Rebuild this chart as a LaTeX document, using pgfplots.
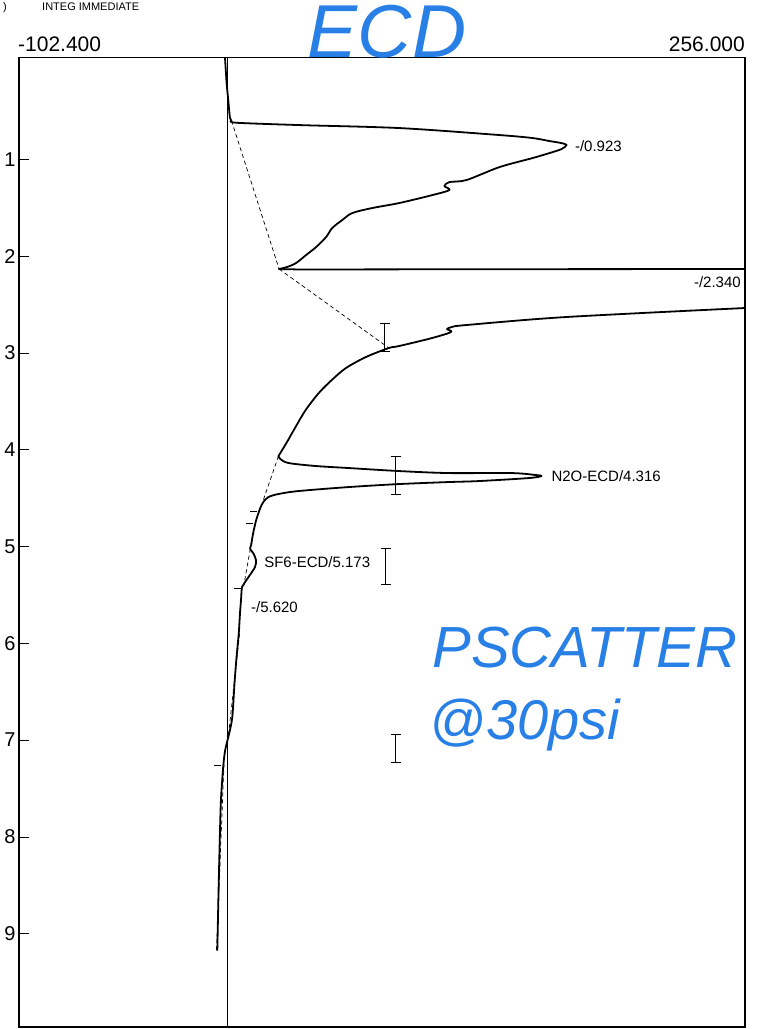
\documentclass[border=0pt]{standalone}
\usepackage{fontspec}
\setmainfont{Liberation Sans}
\usepackage{pgfplots}
\pgfplotsset{compat=1.18}
\definecolor{pen}{RGB}{40,128,230}

\begin{document}
\begin{tikzpicture}
\path[use as bounding box] (-19pt,-2pt) rectangle (743pt,1027pt);
\begin{axis}[at={(0pt,0pt)}, anchor=south west, scale only axis,
  width=726pt, height=969.3pt,
  xmin=-102.4, xmax=256, ymin=-0.05, ymax=9.964, y dir=reverse,
  xtick=\empty, ytick={1,2,...,9}, ytick pos=left,
  tick align=inside, major tick length=10pt,
  tick style={black, line width=0.8pt},
  axis line style={line width=1.3pt},
  yticklabel style={font=\fontsize{20}{24}\selectfont},
  /pgf/number format/assume math mode=true,
  trace/.style={black, line width=1.8pt, line join=round, line cap=round},
  base/.style={black, line width=0.7pt, dash pattern=on 4pt off 3pt},
  win/.style={black, line width=0.8pt},
  cap/.style={only marks, mark=-, mark size=5pt, mark options={black, line width=0.8pt}},
  clip=true]
% zero line
\addplot[black, line width=0.6pt] coordinates {(0.3,-0.05) (0.3,9.964)};
% baselines
\addplot[base] coordinates {(2.5,0.601) (26.0,2.133)};
\addplot[base] coordinates {(26.0,2.133) (80.2,2.949)};
\addplot[base] coordinates {(25.7,4.065) (18.2,4.52)};
\addplot[base] coordinates {(13.0,4.88) (8.6,5.40)};
\addplot[base] coordinates {(6.5,5.9) (1.0,6.95)};
\addplot[base] coordinates {(-1.2,7.25) (-4.9,9.17)};
% trace
\addplot[trace, smooth] coordinates {(-0.7,-0.05) (0.1,0.212) (0.9,0.387) (1.7,0.563) (2.5,0.601)};
\addplot[trace, smooth] coordinates {(2.5,0.601) (5.0,0.622) (36.0,0.646) (85.5,0.677) (134.8,0.749) (151.1,0.780) (159.5,0.811) (165.4,0.832) (167.9,0.852) (165.4,0.894) (159.5,0.935) (151.1,0.987) (134.8,1.080) (118.5,1.214) (110.1,1.235) (107.6,1.276) (110.1,1.317) (101.7,1.369) (85.4,1.451) (72.0,1.503) (62.1,1.555) (57.2,1.627) (52.2,1.710) (49.2,1.803) (44.3,1.906) (39.3,1.989) (34.4,2.071) (30.0,2.112) (26.0,2.133)};
\addplot[trace] coordinates {(26.0,2.133) (35.9,2.138) (134.6,2.135) (256.0,2.133) (256.0,2.536)};
\addplot[trace, smooth] coordinates {(256.0,2.536) (167.7,2.629) (118.3,2.712) (111.4,2.732) (108.9,2.753) (110.9,2.784) (101.5,2.846) (85.2,2.929) (80.2,2.949) (68.9,3.042) (59.0,3.156) (52.0,3.280) (45.6,3.414) (39.1,3.590) (34.1,3.766) (29.6,3.931) (25.7,4.065)};
\addplot[trace, smooth] coordinates {(25.7,4.065) (26.6,4.096) (30.6,4.137) (43.9,4.168) (60.2,4.189) (84.9,4.220) (109.6,4.241) (140.7,4.241) (152.5,4.261) (155.5,4.272) (149.1,4.293) (124.4,4.324) (109.6,4.334) (84.9,4.355) (60.2,4.386) (35.5,4.427) (25.6,4.458) (20.7,4.489) (18.2,4.541) (16.7,4.603) (14.7,4.726) (13.2,4.861) (12.2,4.984) (11.7,5.026) (13.2,5.067) (14.6,5.140) (14.1,5.212) (11.6,5.294) (9.2,5.367) (7.7,5.419) (7.2,5.553) (6.7,5.687) (6.1,5.894) (5.0,6.142) (4.0,6.410) (2.9,6.761) (1.4,6.927) (-0.6,7.102) (-1.6,7.278) (-2.7,7.619) (-3.2,7.960) (-3.8,8.477) (-4.5,9.169)};
% start/end markers
\addplot[only marks, mark=-, mark size=3.5pt, mark options={black, line width=0.8pt}] coordinates {(13.2,4.633) (11.4,4.757) (5.4,5.43) (-4.6,7.257)};
% integration windows
\addplot[win] coordinates {(78.2,2.70) (78.2,2.98)};
\addplot[win] coordinates {(83.6,4.066) (83.6,4.466)};
\addplot[win] coordinates {(78.6,5.019) (78.6,5.387)};
\addplot[win] coordinates {(83.5,6.937) (83.5,7.233)};
\addplot[cap] coordinates {(78.2,2.70) (78.2,2.98) (83.6,4.066) (83.6,4.466) (78.6,5.019) (78.6,5.387) (83.5,6.937) (83.5,7.233)};
% peak labels
\node[anchor=west, font=\fontsize{15}{18}\selectfont, inner sep=0pt] at (axis cs:172,0.86) {-/0.923};
\node[anchor=east, font=\fontsize{15}{18}\selectfont, inner sep=0pt] at (axis cs:254,2.268) {-/2.340};
\node[anchor=west, font=\fontsize{15}{18}\selectfont, inner sep=0pt] at (axis cs:160.4,4.27) {N2O-ECD/4.316};
\node[anchor=west, font=\fontsize{15}{18}\selectfont, inner sep=0pt] at (axis cs:18.6,5.16) {SF6-ECD/5.173};
\node[anchor=west, font=\fontsize{15}{18}\selectfont, inner sep=0pt] at (axis cs:12.1,5.625) {-/5.620};
\end{axis}
% range labels
\node[anchor=base west, font=\fontsize{21}{25}\selectfont, inner sep=0pt] at (-1pt,975.5pt) {-102.400};
\node[anchor=base east, font=\fontsize{21}{25}\selectfont, inner sep=0pt] at (726pt,975.5pt) {256.000};
% header
\node[anchor=base west, font=\fontsize{11}{13}\selectfont, inner sep=0pt] at (23pt,1016pt) {INTEG IMMEDIATE};
\node[anchor=base west, font=\fontsize{11}{13}\selectfont, inner sep=0pt] at (-16pt,1016pt) {)};
% handwritten notes
\node[pen, font=\fontsize{75}{80}\selectfont\itshape, inner sep=0pt] at (368pt,995pt) {ECD};
\node[pen, font=\fontsize{58}{64}\selectfont\itshape, inner sep=0pt] at (566pt,379pt) {PSCATTER};
\node[pen, font=\fontsize{56}{62}\selectfont\itshape, inner sep=0pt] at (506pt,302pt) {@30psi};
\end{tikzpicture}
\end{document}
